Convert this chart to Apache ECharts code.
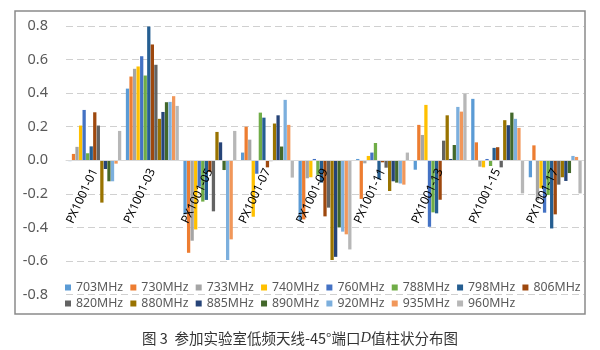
<!DOCTYPE html>
<html>
<head>
<meta charset="utf-8">
<script src="https://cdn.jsdelivr.net/npm/echarts@6/dist/echarts.min.js"></script>
<style>
  html, body { margin: 0; padding: 0; background: #fff; }
  #chart { width: 600px; height: 350px; }
</style>
</head>
<body>
<div id="chart"></div>
<script>
// Ports of the low-frequency antenna (-45° port)
const categories = ['PX1001-01', 'PX1001-03', 'PX1001-05', 'PX1001-07', 'PX1001-09',
                    'PX1001-11', 'PX1001-13', 'PX1001-15', 'PX1001-17'];

// D values per frequency, one entry per port
const f703 = [-0.005, 0.427, -0.322, 0.046, -0.356, 0.008, -0.056, 0.366, -0.101];
const f730 = [0.038, 0.499, -0.551, 0.200, -0.352, -0.230, 0.211, 0.107, 0.089];
const f733 = [0.080, 0.545, -0.479, 0.123, -0.107, -0.018, 0.151, -0.038, -0.237];
const f740 = [0.207, 0.559, -0.412, -0.336, -0.101, 0.026, 0.330, -0.042, -0.167];
const f760 = [0.300, 0.620, -0.157, -0.080, 0.008, 0.046, -0.396, 0.008, -0.312];
const f788 = [0.042, 0.505, -0.246, 0.284, -0.087, 0.103, -0.310, -0.034, -0.207];
const f798 = [0.083, 0.797, -0.236, 0.254, -0.133, -0.113, -0.316, 0.074, -0.406];
const f806 = [0.286, 0.690, -0.070, -0.042, -0.334, -0.012, -0.235, 0.078, -0.322];
const f820 = [0.207, 0.569, -0.304, -0.005, -0.282, -0.044, 0.117, -0.042, -0.145];
const f880 = [-0.252, 0.247, 0.169, 0.219, -0.594, -0.183, 0.268, 0.239, -0.101];
const f885 = [-0.052, 0.288, 0.107, 0.268, -0.575, -0.125, 0.008, 0.209, -0.123];
const f890 = [-0.125, 0.346, -0.058, 0.082, -0.400, -0.133, 0.091, 0.284, -0.076];
const f920 = [-0.125, 0.348, -0.594, 0.360, -0.425, -0.138, 0.318, 0.247, 0.026];
const f935 = [-0.020, 0.382, -0.471, 0.211, -0.441, -0.145, 0.290, 0.193, 0.020];
const f960 = [0.175, 0.324, 0.175, -0.103, -0.531, 0.046, 0.396, -0.197, -0.197];

const seriesNames = ['703MHz', '730MHz', '733MHz', '740MHz', '760MHz', '788MHz', '798MHz', '806MHz',
                     '820MHz', '880MHz', '885MHz', '890MHz', '920MHz', '935MHz', '960MHz'];
const seriesValues = [f703, f730, f733, f740, f760, f788, f798, f806,
                      f820, f880, f885, f890, f920, f935, f960];
const seriesColors = ['#5B9BD5', '#ED7D31', '#A5A5A5', '#FFC000', '#4472C4', '#70AD47', '#255E91', '#9E480E',
                      '#636363', '#997300', '#264478', '#43682B', '#7CAFDD', '#F1975A', '#B7B7B7'];

const yTicks = { min: -0.8, max: 0.8, step: 0.2 };

const font = '"Noto Sans", "Liberation Sans", sans-serif';
const legendText = { color: '#595959', fontSize: 12.3, fontFamily: font };

// Plot area; the category axis sits on the zero line, so its offset
// is derived from the plot height and the value range.
const W = 600, H = 350;
const grid = { left: 66, right: 16, top: 26, bottom: 55.4 };
const plotH = H - grid.top - grid.bottom;
const zeroLift = plotH * (0 - yTicks.min) / (yTicks.max - yTicks.min);

const chart = echarts.init(document.getElementById('chart'), null, { renderer: 'canvas' });

chart.setOption({
  animation: false,
  color: seriesColors,
  title: {
    text: '图 3  参加实验室低频天线-45°端口{it|D}值柱状分布图',
    left: 'center',
    top: 326,
    textStyle: {
      fontSize: 14.5,
      fontWeight: 'normal',
      color: '#333',
      fontFamily: '"Noto Sans CJK SC", sans-serif',
      rich: {
        it: { fontStyle: 'italic', fontSize: 14.5, color: '#333', fontFamily: '"Liberation Serif", serif' }
      }
    }
  },
  graphic: [{
    type: 'rect',
    shape: { x: 15, y: 11, width: 570, height: 303 },
    style: { fill: 'none', stroke: '#8a8a8a', lineWidth: 1.5 },
    z: 100
  }],
  legend: [{
    data: seriesNames.slice(0, 8),
    left: 60,
    top: 276.5,
    icon: 'rect',
    itemWidth: 6,
    itemHeight: 6,
    itemGap: 7.2,
    textStyle: legendText
  }, {
    data: seriesNames.slice(8),
    left: 60,
    top: 292.5,
    icon: 'rect',
    itemWidth: 6,
    itemHeight: 6,
    itemGap: 7.2,
    textStyle: legendText
  }],
  grid: Object.assign({ containLabel: false }, grid),
  xAxis: {
    type: 'category',
    data: categories,
    offset: -zeroLift,
    z: 10,
    axisLine: { onZero: false, lineStyle: { color: '#d9d9d9', width: 1 } },
    axisTick: { show: false },
    axisLabel: {
      rotate: 65,
      margin: 9,
      interval: 0,
      hideOverlap: false,
      color: '#000',
      fontSize: 12,
      fontFamily: font,
      align: 'right',
      verticalAlign: 'middle'
    },
    splitLine: { show: false }
  },
  yAxis: {
    type: 'value',
    min: yTicks.min,
    max: yTicks.max,
    interval: yTicks.step,
    axisLine: { show: false },
    axisTick: { show: false },
    axisLabel: {
      margin: 18,
      color: '#595959',
      fontSize: 14.5,
      fontFamily: font,
      formatter: v => v.toFixed(1)
    },
    splitLine: { lineStyle: { color: '#d0d0d0', width: 1, type: [7, 4] } }
  },
  series: seriesNames.map((name, i) => ({
    name: name,
    type: 'bar',
    data: seriesValues[i],
    barGap: '8%',
    barCategoryGap: '8%',
    itemStyle: { color: seriesColors[i] }
  }))
});
</script>
</body>
</html>
